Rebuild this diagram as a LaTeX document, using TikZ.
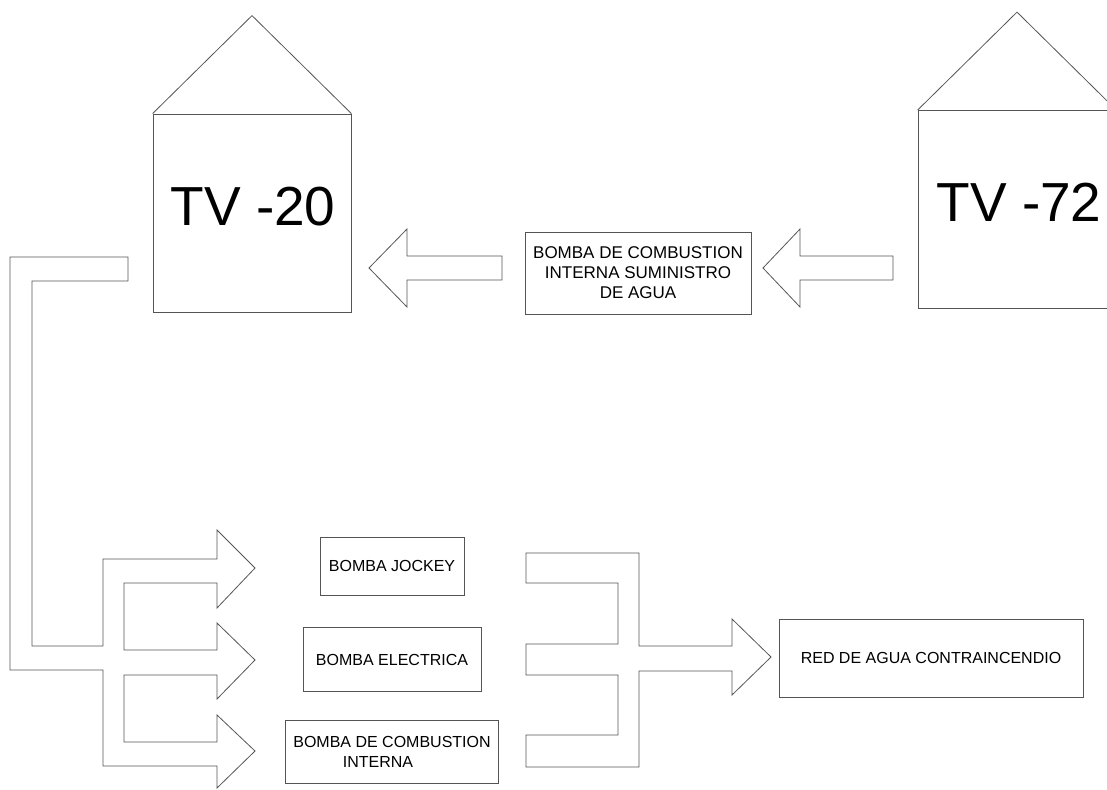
\documentclass[tikz,border=0pt]{standalone}
\usepackage{fontspec}
\setmainfont{Liberation Sans}
\usepackage{tikz}
\usetikzlibrary{positioning, calc}
\definecolor{pipegray}{HTML}{555555}

\begin{document}
\begin{tikzpicture}[x=1pt, y=-1pt,
    tank/.style={rectangle, draw=pipegray, minimum width=198pt, minimum height=198pt,
        line width=0.8pt, inner sep=0pt},
    tanktxt/.style={font=\fontsize{55}{60}\selectfont, inner sep=0pt},
    pump/.style={rectangle, draw=pipegray, align=center, font=\fontsize{16}{20}\selectfont,
        line width=0.8pt, inner sep=0pt},
    pipe/.style={draw=pipegray, line width=0.8pt, line join=miter}
]
    \clip (0,0) rectangle (1107,789);

    % tanks
    \node[tank] (tv20) at (252,213) {};
    \node[tanktxt] (tv20txt) at (253,207) {TV -20};
    \draw[pipe] (tv20.north west) -- ($(tv20.north)+(0,-98)$) -- (tv20.north east);

    \node[tank] (tv72) at (1017,209.5) {};
    \node[tanktxt] (tv72txt) at (1019,202) {TV -72};
    \draw[pipe] (tv72.north west) -- ($(tv72.north)+(0,-98)$) -- (tv72.north east);

    % supply pump between tanks
    \node[pump, minimum width=226pt, minimum height=82pt, font=\fontsize{17}{20}\selectfont]
        (supply) at (638,273) {BOMBA DE COMBUSTION\\INTERNA SUMINISTRO\\DE AGUA};

    % pump column
    \node[pump, minimum width=144pt, minimum height=58pt] (jockey) at (392,566) {BOMBA JOCKEY};
    \node[pump, minimum width=178pt, minimum height=64pt, below=32pt of jockey] (electric) {BOMBA ELECTRICA};
    \node[pump, minimum width=213pt, minimum height=63pt, below=28pt of electric] (diesel)
        {BOMBA DE COMBUSTION\\\hspace*{-28pt}INTERNA};

    % fire network
    \node[pump, minimum width=304pt, minimum height=78pt] (red) at (931,658) {RED DE AGUA CONTRAINCENDIO};

    % top block arrows (tank -> pump -> tank)
    \foreach \tip/\back/\tail in {369/407/502, 763/800/893}
        \draw[pipe] (\tail,256) -- (\back,256) -- (\back,229) -- (\tip,268)
            -- (\back,307) -- (\back,280) -- (\tail,280) -- cycle;

    % suction pipe from TV-20 to the pumps
    \draw[pipe] (128,257) -- (10,257) -- (10,670) -- (103,670) -- (103,766) -- (217,766)
        -- (217,788) -- (255,751) -- (217,715) -- (217,742) -- (124,742) -- (124,675)
        -- (217,675) -- (217,699) -- (255,660) -- (217,623) -- (217,650) -- (124,650)
        -- (124,583) -- (217,583) -- (217,608) -- (255,568) -- (217,530) -- (217,559)
        -- (103,559) -- (103,646) -- (32,646) -- (32,281) -- (128,281) -- cycle;

    % discharge manifold to the network
    \draw[pipe] (526,553) -- (639,553) -- (639,646) -- (732,646) -- (732,619) -- (771,657)
        -- (732,695) -- (732,671) -- (639,671) -- (639,767) -- (526,767) -- (526,735)
        -- (618,735) -- (618,675) -- (526,675) -- (526,644) -- (618,644) -- (618,583)
        -- (526,583) -- cycle;
\end{tikzpicture}
\end{document}
